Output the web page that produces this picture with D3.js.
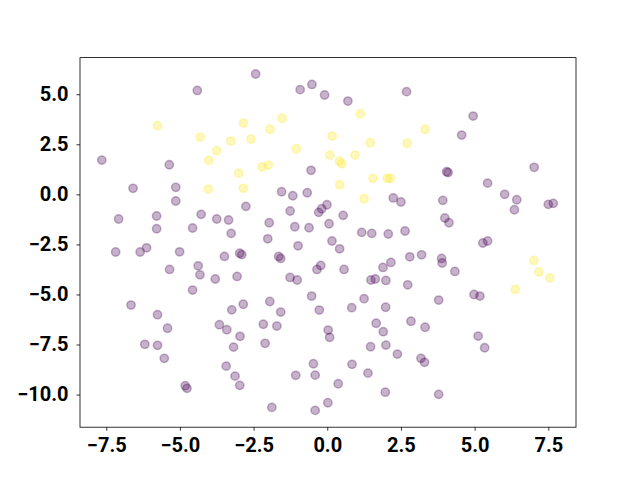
<!DOCTYPE html>
<html>
<head>
<meta charset="utf-8">
<script src="https://cdn.jsdelivr.net/npm/d3@7"></script>
<style>
  body { margin: 0; background: #fff; }
  .tick text { font-family: Roboto, "DejaVu Sans", sans-serif; font-weight: bold; font-size: 20px; fill: #000; }
</style>
</head>
<body>
<div class="chart"></div>
<script>
// class 0 (purple) points
const purpleX = [-4.41, -7.65, -5.36, -2.43, -0.92, -0.52, -0.09, 0.70, 2.69, -0.55,
  4.95, 4.56, 4.05, 4.10, 7.02, 5.44,
  -6.59, -5.14, -5.14, -2.76, -7.08, -5.79, -5.79, -4.28, -3.75, -3.35, -4.57, -3.26, -7.18, -6.35,
  -6.13, -5.01, -3.49, -2.97, -2.90, -5.35, -4.38, -4.32, -3.80, -3.06, -4.57, -6.66, -3.24, -2.85,
  -1.55, -1.17, -0.68, -1.26, -0.29, -0.19, -0.01, 0.54, 2.24, 2.50, -1.97, -1.10, -0.62, 0.06,
  1.17, 1.51, 2.07, 2.64, -2.02, -0.99, 0.16, 0.42, -1.65, -1.58, -0.35, -0.22, 0.57, 1.89, 2.16,
  2.80, -1.26, -1.02, 1.48, 1.63, 1.99, 2.73, -0.53, 1.25, -1.95, -1.58, -0.27, 0.83, 1.98,
  6.02, 6.43, 6.35, 7.50, 7.67, 3.92, 3.99, 4.13, 5.28, 5.44, 3.20, 3.88, 3.90, 4.33, 3.78, 4.98, 5.18,
  -5.76, -5.42, -6.19, -5.76, -5.53, -4.82, -4.76, -3.66, -3.41, -2.96, -3.18, -3.43, -3.13, -2.97,
  -2.17, -1.71, 0.03, 0.08, 1.66, 1.90, 2.84, -2.11, 1.47, 1.99, 2.38, -0.47, 0.84, -1.07, -0.41,
  1.38, 0.37, 1.97, -1.88, -0.41, 0.02,
  3.32, 5.12, 5.34, 3.18, 3.30, 3.78];
const purpleY = [5.19, 1.71, 1.48, 6.01, 5.23, 5.49, 4.96, 4.66, 5.13, 1.20,
  3.91, 2.96, 1.13, 1.09, 1.35, 0.56,
  0.30, 0.35, -0.33, -0.60, -1.23, -1.08, -1.72, -1.00, -1.23, -1.28, -1.68, -1.95, -2.88, -2.88,
  -2.67, -2.87, -3.10, -2.94, -3.01, -3.75, -3.57, -4.02, -4.23, -4.10, -4.78, -5.53, -5.77, -5.49,
  0.13, -0.07, 0.08, -0.83, -0.90, -0.72, -0.52, -1.05, -0.18, -0.38, -1.42, -1.62, -1.67, -1.47,
  -1.90, -1.95, -1.98, -1.83, -2.22, -2.57, -2.33, -2.72, -3.10, -3.20, -3.75, -3.55, -3.75, -3.65, -3.40,
  -3.12, -4.15, -4.28, -4.28, -4.23, -4.30, -4.52, -5.08, -5.21, -5.35, -5.88, -5.78, -5.66, -5.64,
  0.00, -0.27, -0.77, -0.50, -0.45, -0.30, -1.18, -1.42, -2.43, -2.33, -3.02, -3.20, -3.43, -3.85, -5.28, -5.00, -5.08,
  -6.01, -6.69, -7.49, -7.54, -8.19, -9.56, -9.69, -6.51, -6.76, -7.09, -7.63, -8.58, -9.08, -9.54,
  -6.49, -6.58, -6.78, -7.14, -6.44, -6.86, -6.34, -7.44, -7.61, -7.53, -7.98, -8.46, -8.49, -9.04, -9.03,
  -8.93, -9.46, -9.88, -10.64, -10.79, -10.41,
  -6.64, -7.08, -7.66, -8.19, -8.39, -9.99];

// class 1 (yellow) points
const yellowX = [-5.76, -2.84, -4.31, -3.27, -2.59, -3.75, -4.02, -3.00, -1.53, -1.94, 1.12, 0.17,
  1.46, 2.71, -1.05, 0.09, 0.94, 0.41, 0.49, -2.21, -2.00, 1.55, 2.04, 2.14, 0.42, 3.32,
  -4.04, -2.85, 1.25, 7.01, 7.18, 7.55, 6.38];
const yellowY = [3.43, 3.56, 2.86, 2.66, 2.76, 2.18, 1.70, 1.06, 3.80, 3.25, 4.03, 2.91,
  2.58, 2.55, 2.28, 1.96, 1.96, 1.66, 1.53, 1.36, 1.46, 0.80, 0.80, 0.80, 0.48, 3.25,
  0.26, 0.30, -0.22, -3.30, -3.88, -4.17, -4.75];

const xTicks = [-7.5, -5.0, -2.5, 0.0, 2.5, 5.0, 7.5];
const yTicks = [-10.0, -7.5, -5.0, -2.5, 0.0, 2.5, 5.0];

const W = 640, H = 480;
const margin = { top: 57.6, right: 64, bottom: 52.8, left: 80 };
const width = W - margin.left - margin.right;
const height = H - margin.top - margin.bottom;

const svg = d3.select(".chart")
    .append("svg")
    .attr("width", W)
    .attr("height", H)
    .append("g")
    .attr("transform", `translate(${margin.left},${margin.top})`);

const x = d3.scaleLinear().domain([-8.39, 8.44]).range([0, width]);
const y = d3.scaleLinear().domain([-11.63, 6.83]).range([height, 0]);

const fmt = d => d3.format(".1f")(d).replace("-", "\u2212");

// points
const points = purpleX.map((d, i) => ({ x: d, y: purpleY[i], c: "#440154" }))
    .concat(yellowX.map((d, i) => ({ x: d, y: yellowY[i], c: "#fde725" })));

svg.append("g")
    .selectAll("circle")
    .data(points)
    .join("circle")
    .attr("cx", d => x(d.x))
    .attr("cy", d => y(d.y))
    .attr("r", 4.17)
    .style("fill", d => d.c)
    .style("fill-opacity", 0.3)
    .style("stroke", d => d.c)
    .style("stroke-opacity", 0.3)
    .style("stroke-width", 1.5);

// axes
const xAxis = svg.append("g")
    .attr("transform", `translate(0,${height})`)
    .call(d3.axisBottom(x).tickValues(xTicks).tickFormat(fmt).tickSize(3.5).tickPadding(7));
const yAxis = svg.append("g")
    .call(d3.axisLeft(y).tickValues(yTicks).tickFormat(fmt).tickSize(3.5).tickPadding(8));

[xAxis, yAxis].forEach(a => {
  a.select(".domain").remove();
  a.selectAll(".tick line").attr("stroke", "#000").attr("stroke-width", 0.8);
});

// frame
svg.append("rect")
    .attr("width", width)
    .attr("height", height)
    .attr("fill", "none")
    .attr("stroke", "#000")
    .attr("stroke-width", 0.8);
</script>
</body>
</html>
